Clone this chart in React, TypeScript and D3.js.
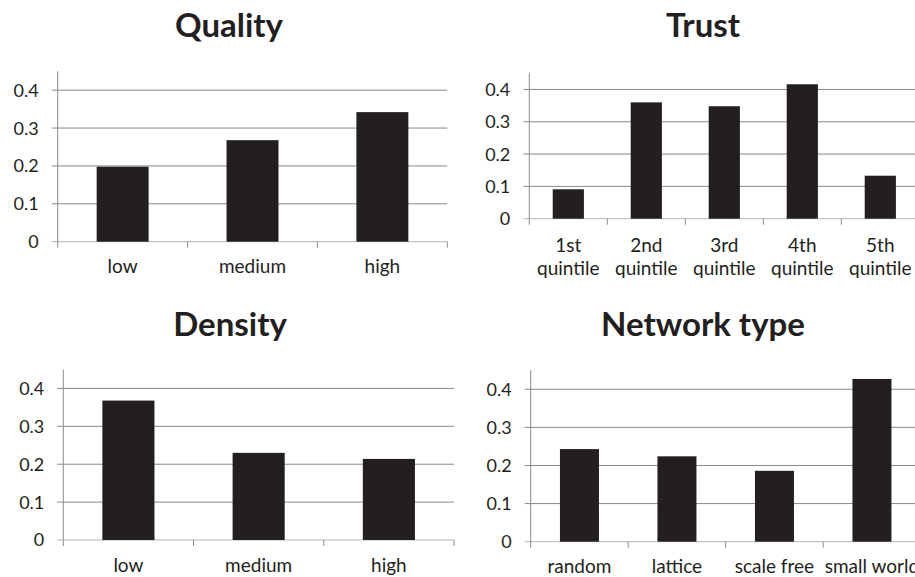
import React, { useEffect, useRef } from 'react';
import * as d3 from 'd3';

const qualityCats = ['low', 'medium', 'high'];
const qualityVals = [0.198, 0.268, 0.342];

const trustCats = ['1st\nquintile', '2nd\nquintile', '3rd\nquintile', '4th\nquintile', '5th\nquintile'];
const trustVals = [0.091, 0.36, 0.348, 0.416, 0.133];

const densityCats = ['low', 'medium', 'high'];
const densityVals = [0.368, 0.23, 0.214];

const networkCats = ['random', 'lattice', 'scale free', 'small world'];
const networkVals = [0.243, 0.224, 0.186, 0.427];

const yTicks = [0, 0.1, 0.2, 0.3, 0.4];

interface Panel {
  title: string;
  cats: string[];
  vals: number[];
  x0: number;
  x1: number;
  yZero: number;
  yTop: number;
  titleX: number;
  titleY: number;
  labelY: number;
}

const panels: Panel[] = [
  { title: 'Quality', cats: qualityCats, vals: qualityVals, x0: 57.7, x1: 447.3, yZero: 241.7, yTop: 71.2, titleX: 229, titleY: 37, labelY: 273 },
  { title: 'Trust', cats: trustCats, vals: trustVals, x0: 529.3, x1: 919.3, yZero: 218.7, yTop: 73.3, titleX: 703, titleY: 37, labelY: 251.7 },
  { title: 'Density', cats: densityCats, vals: densityVals, x0: 63.3, x1: 454, yZero: 540, yTop: 369.5, titleX: 230, titleY: 336, labelY: 572 },
  { title: 'Network type', cats: networkCats, vals: networkVals, x0: 530.7, x1: 920.7, yZero: 541.7, yTop: 370.2, titleX: 703, titleY: 336, labelY: 573 },
];

const FONT = 'Lato, "Open Sans", sans-serif';

const App: React.FC = () => {
  const svgRef = useRef<SVGSVGElement>(null);

  useEffect(() => {
    if (!svgRef.current) return;
    const svg = d3.select(svgRef.current);
    svg.selectAll('*').remove();

    svg.append('rect').attr('width', 915).attr('height', 577).attr('fill', '#fff');

    panels.forEach(p => {
      const g = svg.append('g');
      const x = d3.scaleBand<string>()
        .domain(p.cats)
        .range([p.x0, p.x1])
        .paddingInner(0.6)
        .paddingOuter(0.3);
      const y = d3.scaleLinear().domain([0, 0.45]).range([p.yZero, p.yTop]);
      const step = (p.x1 - p.x0) / p.cats.length;

      // gridlines (with small tick stubs to the left of the axis)
      g.selectAll('.grid')
        .data(yTicks)
        .enter()
        .append('line')
        .attr('x1', p.x0 - 6)
        .attr('x2', p.x1)
        .attr('y1', d => y(d))
        .attr('y2', d => y(d))
        .attr('stroke', d => (d === 0 ? '#b5b5b5' : '#8a8a8a'))
        .attr('stroke-width', 1);

      // y tick labels
      g.selectAll('.ylab')
        .data(yTicks)
        .enter()
        .append('text')
        .attr('x', p.x0 - 19)
        .attr('y', d => y(d))
        .attr('dy', '0.36em')
        .attr('text-anchor', 'end')
        .attr('font-family', FONT)
        .attr('font-size', 18)
        .attr('fill', '#231f20')
        .text(d => (d === 0 ? '0' : d.toFixed(1)));

      // bars
      g.selectAll('.bar')
        .data(p.vals)
        .enter()
        .append('rect')
        .attr('x', (_, i) => x(p.cats[i])!)
        .attr('width', x.bandwidth())
        .attr('y', d => y(d))
        .attr('height', d => y(0) - y(d))
        .attr('fill', '#231f20');

      // y axis line
      g.append('line')
        .attr('x1', p.x0).attr('x2', p.x0)
        .attr('y1', p.yTop).attr('y2', p.yZero + 6)
        .attr('stroke', '#8c8c8c');

      // x tick marks at category boundaries
      g.selectAll('.xtick')
        .data(d3.range(1, p.cats.length + 1))
        .enter()
        .append('line')
        .attr('x1', i => p.x0 + i * step)
        .attr('x2', i => p.x0 + i * step)
        .attr('y1', p.yZero)
        .attr('y2', p.yZero + 6)
        .attr('stroke', '#8c8c8c');

      // category labels
      p.cats.forEach(c => {
        const t = g.append('text')
          .attr('x', x(c)! + x.bandwidth() / 2)
          .attr('y', p.labelY)
          .attr('text-anchor', 'middle')
          .attr('font-family', FONT)
          .attr('font-size', 19)
          .attr('fill', '#231f20');
        c.split('\n').forEach((line, li) => {
          t.append('tspan')
            .attr('x', x(c)! + x.bandwidth() / 2)
            .attr('dy', li === 0 ? 0 : 23.3)
            .text(line);
        });
      });

      // title
      svg.append('text')
        .attr('x', p.titleX)
        .attr('y', p.titleY)
        .attr('text-anchor', 'middle')
        .attr('font-family', FONT)
        .attr('font-weight', 'bold')
        .attr('font-size', 33)
        .attr('fill', '#231f20')
        .text(p.title);
    });
  }, []);

  return (
    <svg
      ref={svgRef}
      width={915}
      height={577}
      style={{ position: 'absolute', left: 0, top: 0, display: 'block' }}
    />
  );
};

export default App;
